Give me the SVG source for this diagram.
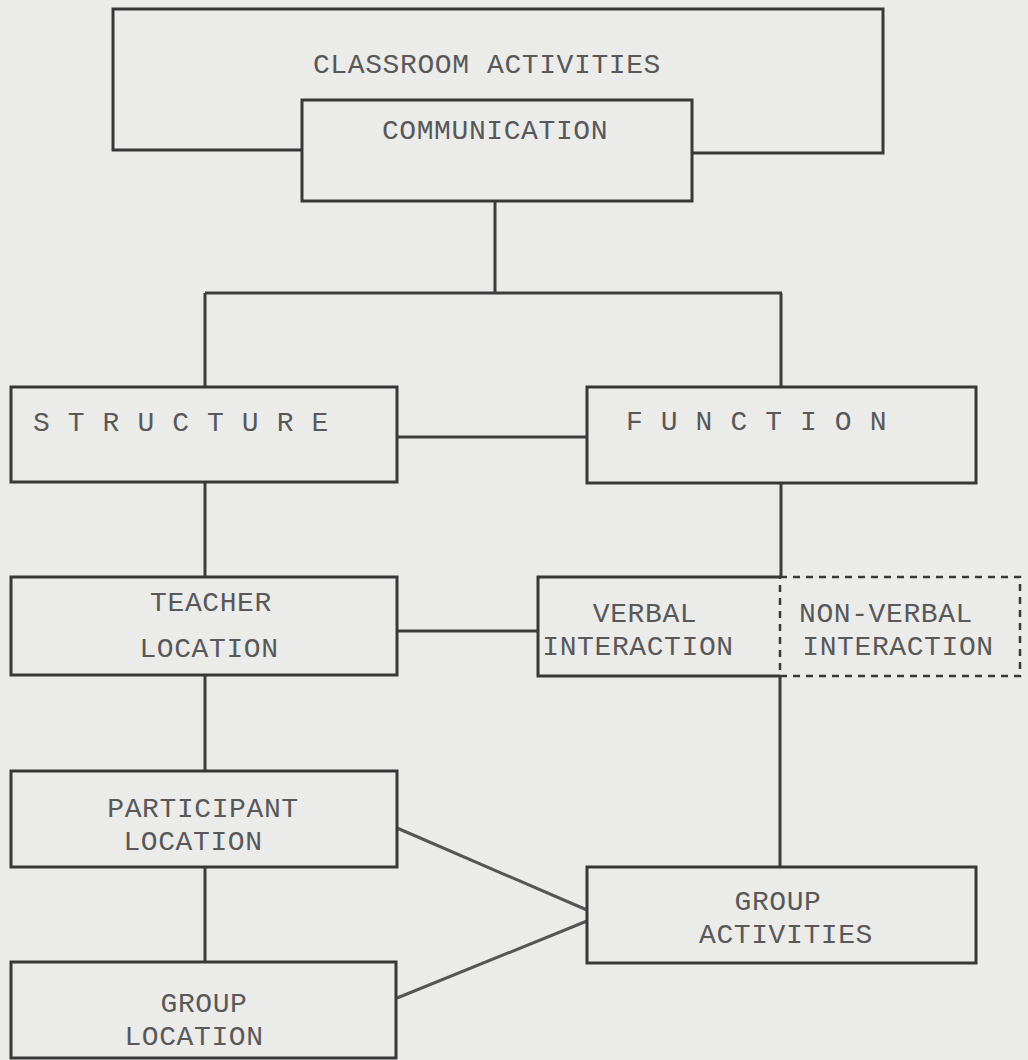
<svg xmlns="http://www.w3.org/2000/svg" width="1028" height="1060" viewBox="0 0 1028 1060">
<style>
.box{fill:none;stroke:#383838;stroke-width:3;stroke-linejoin:miter}
.dash{fill:none;stroke:#383838;stroke-width:2.5;stroke-dasharray:7 6}
.ln{fill:none;stroke:#3c3c3c;stroke-width:3}
.diag{fill:none;stroke:#555;stroke-width:3}
text{font-family:"Liberation Mono","DejaVu Sans Mono",monospace;font-size:28px;fill:#585858;text-anchor:middle;letter-spacing:0.6px}
</style>
<rect x="0" y="0" width="1028" height="1060" fill="#ebebea"/>
<g id="connectors">
<line class="ln" x1="495" y1="201" x2="495" y2="293"/>
<line class="ln" x1="205" y1="293" x2="782" y2="293"/>
<line class="ln" x1="205" y1="293" x2="205" y2="387"/>
<line class="ln" x1="781" y1="293" x2="781" y2="387"/>
<line class="ln" x1="397" y1="437" x2="587" y2="437"/>
<line class="ln" x1="205" y1="482" x2="205" y2="577"/>
<line class="ln" x1="781" y1="483" x2="781" y2="577"/>
<line class="ln" x1="397" y1="631" x2="538" y2="631"/>
<line class="ln" x1="205" y1="675" x2="205" y2="770"/>
<line class="ln" x1="780" y1="676" x2="780" y2="867"/>
<line class="ln" x1="205" y1="867" x2="205" y2="962"/>
<line class="diag" x1="397" y1="828" x2="587" y2="910"/>
<line class="diag" x1="397" y1="998" x2="587" y2="921"/>
</g>
<g id="classroom-activities">
<path class="box" d="M302,150 H113 V9 H883 V153 H692"/>
<text x="487" y="73">CLASSROOM ACTIVITIES</text>
</g>
<g id="communication">
<rect class="box" x="302" y="100" width="390" height="101"/>
<text x="495" y="139">COMMUNICATION</text>
</g>
<g id="structure">
<rect class="box" x="11" y="387" width="386" height="95"/>
<text x="33" y="431" style="text-anchor:start">S T R U C T U R E</text>
</g>
<g id="function">
<rect class="box" x="587" y="387" width="389" height="96"/>
<text x="626" y="430" style="text-anchor:start">F U N C T I O N</text>
</g>
<g id="teacher-location">
<rect class="box" x="11" y="577" width="386" height="98"/>
<text x="211" y="611">TEACHER</text>
<text x="209" y="657">LOCATION</text>
</g>
<g id="verbal-interaction">
<path class="box" d="M780,577 H538 V676 H780"/>
<text x="645" y="622">VERBAL</text>
<text x="638" y="655">INTERACTION</text>
</g>
<g id="non-verbal-interaction">
<rect class="dash" x="780" y="577" width="240" height="99"/>
<text x="886" y="622">NON-VERBAL</text>
<text x="898" y="655">INTERACTION</text>
</g>
<g id="participant-location">
<rect class="box" x="11" y="771" width="386" height="96"/>
<text x="203" y="817">PARTICIPANT</text>
<text x="193" y="850">LOCATION</text>
</g>
<g id="group-activities">
<rect class="box" x="587" y="867" width="389" height="96"/>
<text x="778" y="910">GROUP</text>
<text x="786" y="943">ACTIVITIES</text>
</g>
<g id="group-location">
<rect class="box" x="11" y="962" width="385" height="96"/>
<text x="204" y="1012">GROUP</text>
<text x="194" y="1045">LOCATION</text>
</g>
</svg>
